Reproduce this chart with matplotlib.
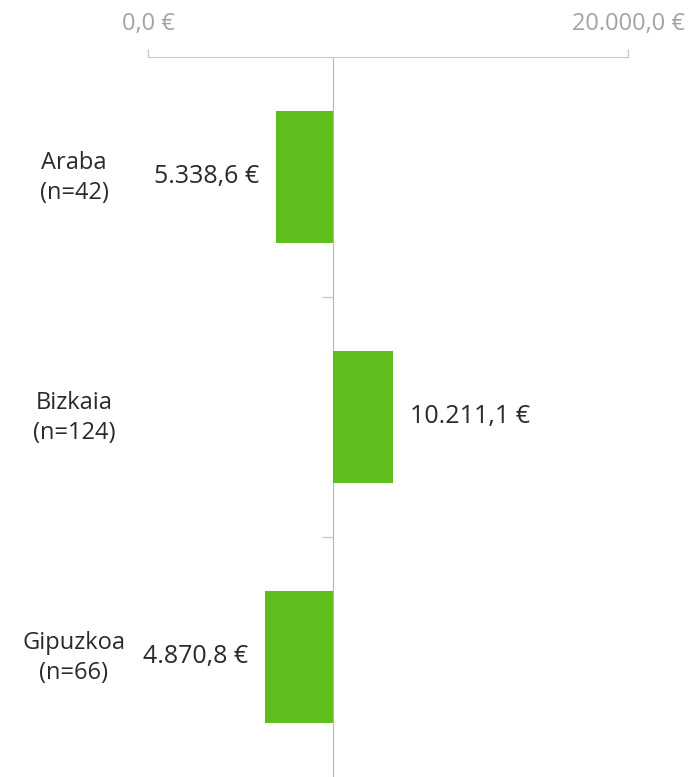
import numpy as np
import matplotlib.pyplot as plt

regions = ['Araba', 'Bizkaia', 'Gipuzkoa']
counts = [42, 124, 66]
amounts = [5338.6, 10211.1, 4870.8]
reference = 7710.0          # value where the bars start (centre line)
axis_ticks = [0, 20000]
axis_labels = ['0,0 €', '20.000,0 €']

plt.rcParams['font.family'] = ['Open Sans', 'DejaVu Sans']

def euro(v):
    s = '{:,.1f}'.format(v)
    return s.replace(',', 'X').replace('.', ',').replace('X', '.') + ' €'

fig = plt.figure(figsize=(6.97, 7.77), dpi=100)
ax = fig.add_axes([148 / 697, 0, 480 / 697, 720 / 777])

y = np.arange(len(regions))
widths = np.array(amounts) - reference
ax.barh(y, widths, left=reference, height=0.55, color='#5FBD1D', zorder=3)

ax.set_xlim(axis_ticks[0], axis_ticks[1])
ax.set_ylim(len(regions) - 0.5, -0.5)

# top bracket axis
for s in ['right', 'bottom']:
    ax.spines[s].set_visible(False)
ax.spines['top'].set_color('#c8c8c8')
ax.xaxis.tick_top()
ax.set_xticks(axis_ticks)
ax.set_xticklabels(axis_labels)
ax.tick_params(axis='x', colors='#c8c8c8', length=6, width=1, pad=9,
               labelsize=17, labelcolor='#a3a3a3')

# centre line with small separators between rows
ax.spines['left'].set_position(('data', reference))
ax.spines['left'].set_color('#b5b5b5')
ax.set_yticks(y[:-1] + 0.5)
ax.set_yticklabels([])
ax.tick_params(axis='y', colors='#cccccc', length=8, width=1)

for i, (name, n, v) in enumerate(zip(regions, counts, amounts)):
    ax.annotate('{}\n(n={})'.format(name, n), xy=(0, i),
                xycoords=('axes fraction', 'data'), xytext=(-74, -1),
                textcoords='offset pixels', ha='center', va='center',
                fontsize=17, linespacing=1.35, color='#2a2a2a')
    if v < reference:
        ax.annotate(euro(v), xy=(v, i), xytext=(-17, 1),
                    textcoords='offset pixels', ha='right', va='center',
                    fontsize=18, color='#2a2a2a')
    else:
        ax.annotate(euro(v), xy=(v, i), xytext=(17, 1),
                    textcoords='offset pixels', ha='left', va='center',
                    fontsize=18, color='#2a2a2a')

fig.savefig('out.png', dpi=100, facecolor='white')
